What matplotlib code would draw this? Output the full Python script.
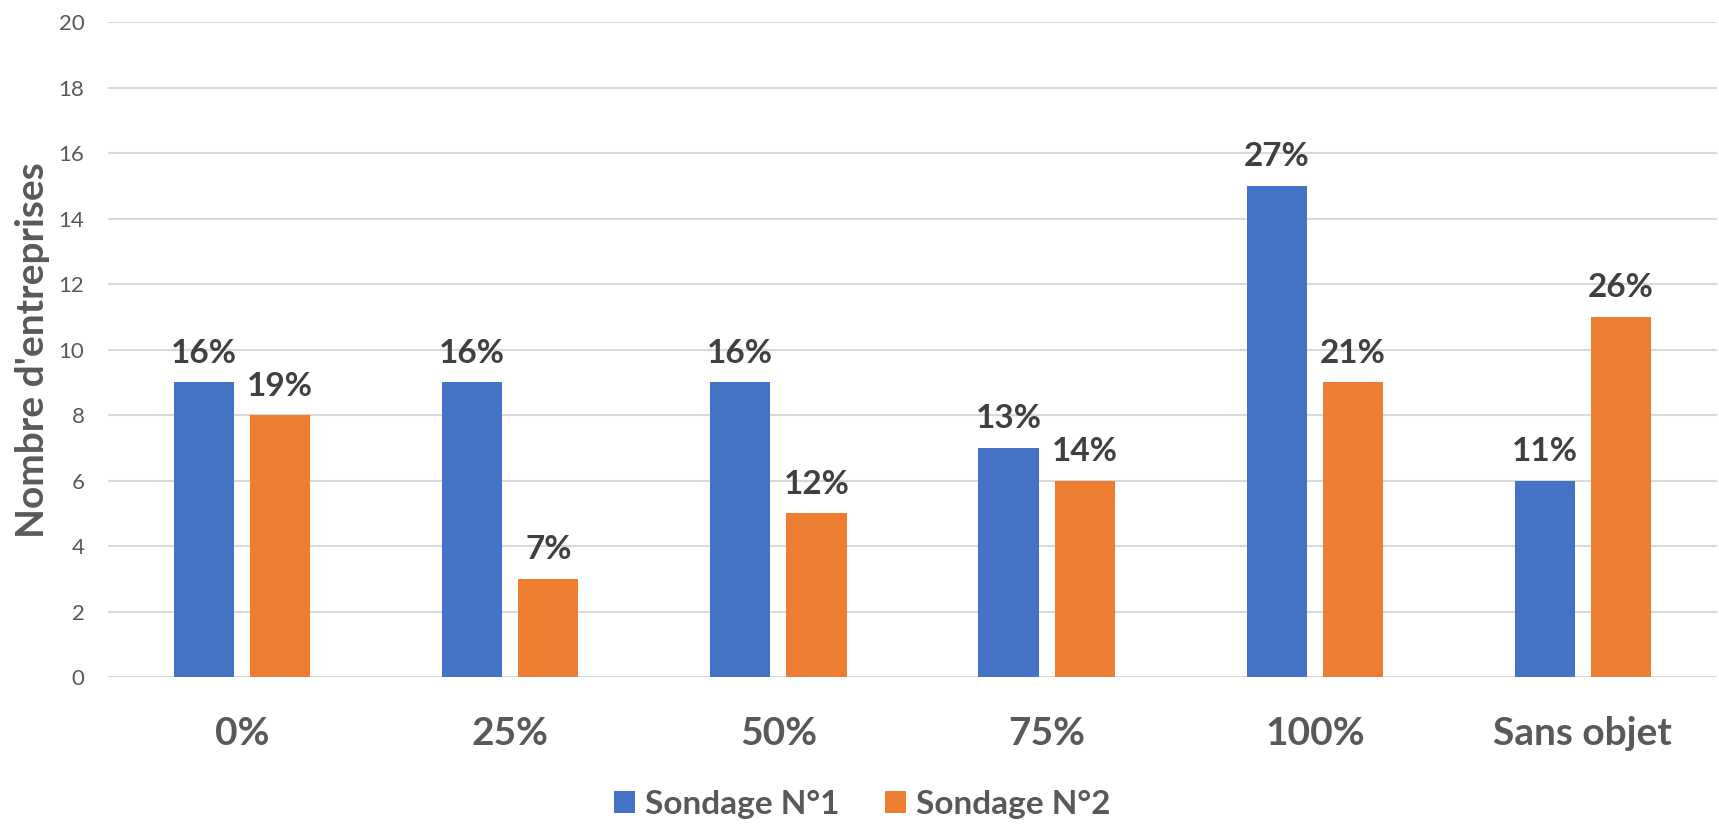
import matplotlib
matplotlib.use("Agg")
import matplotlib.pyplot as plt
import numpy as np

categories = ["0%", "25%", "50%", "75%", "100%", "Sans objet"]
series_names = ["Sondage N°1", "Sondage N°2"]
values_1 = [9, 9, 9, 7, 15, 6]
values_2 = [8, 3, 5, 6, 9, 11]
labels_1 = ["16%", "16%", "16%", "13%", "27%", "11%"]
labels_2 = ["19%", "7%", "12%", "14%", "21%", "26%"]
yticks = [0, 2, 4, 6, 8, 10, 12, 14, 16, 18, 20]

plt.rcParams['font.family'] = ['Lato', 'DejaVu Sans']

W, H = 1719, 830
fig = plt.figure(figsize=(W / 100, H / 100), dpi=100)
ax = fig.add_axes([108 / W, 1 - 677 / H, (1717 - 108) / W, (677 - 22) / H])

x = np.arange(len(categories))
bw = 0.224
off = 0.142
blue, orange = "#4472C4", "#ED7D31"
b1 = ax.bar(x - off, values_1, bw, color=blue, label=series_names[0], zorder=3)
b2 = ax.bar(x + off, values_2, bw, color=orange, label=series_names[1], zorder=3)

for bars, labs in ((b1, labels_1), (b2, labels_2)):
    for rect, lab in zip(bars, labs):
        ax.annotate(lab, (rect.get_x() + rect.get_width() / 2, rect.get_height()),
                    xytext=(0, 14), textcoords="offset points", ha="center", va="baseline",
                    fontsize=24, fontweight="bold", color="#404040")

ax.set_xlim(-0.5, len(categories) - 0.5)
ax.set_ylim(0, 20)
ax.set_yticks(yticks)
ax.set_yticklabels([str(t) for t in yticks], fontsize=16, color="#595959")
ax.set_xticks(x)
ax.set_xticklabels(categories, fontsize=28, fontweight="bold", color="#595959")
ax.tick_params(axis="y", length=0, pad=17)
ax.tick_params(axis="x", length=0, pad=28)
ax.grid(axis="y", color="#d9d9d9", linewidth=1.5, zorder=0)
for s in ax.spines.values():
    s.set_visible(False)

fig.text(33 / W, 1 - 350 / H, "Nombre d'entreprises", rotation=90, ha="center", va="center",
         fontsize=28, fontweight="bold", color="#595959")

fig.legend(handles=[b1, b2], labels=series_names, loc="center", bbox_to_anchor=(862 / W, 1 - 804 / H),
           ncol=2, frameon=False, handlelength=0.63, handleheight=0.63,
           handletextpad=0.3, columnspacing=1.35, labelcolor="#595959",
           prop={"family": ["Lato", "DejaVu Sans"], "size": 24, "weight": "bold"})

fig.savefig("out.png", dpi=100)
